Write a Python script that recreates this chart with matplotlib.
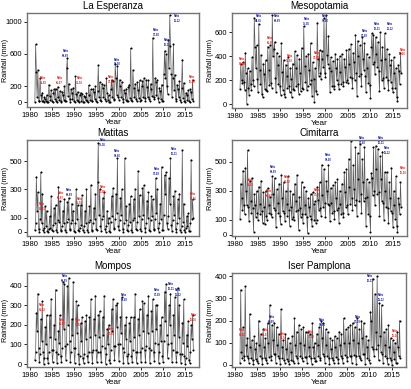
import matplotlib
matplotlib.use("Agg")
import matplotlib.pyplot as plt
import numpy as np

plt.rcParams["font.family"] = ["Liberation Sans", "DejaVu Sans"]

# bimonthly rainfall (mm), one row per year 1981-2016
years = np.arange(1981, 2017)

la_esperanza = [
    5, 720, 380, 60, 400, 20,
    10, 300, 90, 20, 120, 15,
    0, 60, 40, 10, 90, 5,
    5, 220, 80, 30, 150, 10,
    0, 110, 160, 40, 170, 20,
    5, 190, 70, 25, 140, 10,
    0, 130, 90, 30, 200, 15,
    10, 420, 550, 80, 230, 40,
    5, 160, 120, 40, 180, 10,
    0, 320, 100, 30, 130, 20,
    5, 90, 120, 20, 100, 5,
    0, 80, 60, 25, 110, 10,
    5, 210, 90, 30, 160, 15,
    10, 170, 130, 40, 200, 20,
    5, 140, 460, 60, 250, 30,
    20, 230, 180, 70, 210, 40,
    10, 300, 120, 30, 90, 5,
    0, 160, 280, 60, 260, 30,
    40, 470, 300, 90, 450, 60,
    30, 280, 200, 70, 250, 40,
    5, 150, 110, 30, 170, 10,
    10, 190, 220, 50, 670, 30,
    20, 400, 180, 60, 230, 40,
    10, 250, 150, 50, 270, 20,
    30, 200, 260, 70, 300, 50,
    20, 280, 190, 60, 270, 40,
    10, 230, 160, 80, 800, 60,
    40, 300, 250, 90, 280, 50,
    5, 180, 140, 40, 220, 10,
    20, 350, 640, 300, 600, 200,
    100, 770, 420, 1080, 700, 350,
    60, 300, 720, 150, 340, 40,
    10, 220, 170, 60, 260, 30,
    5, 180, 530, 50, 240, 20,
    0, 120, 90, 30, 150, 10,
    5, 160, 130, 40, 280, 20,
]

mesopotamia = [
    130, 340, 200, 180, 350, 190,
    120, 430, 260, 5, 300, 140,
    80, 280, 170, 120, 390, 200,
    150, 720, 480, 300, 490, 210,
    100, 670, 290, 170, 410, 90,
    60, 340, 250, 130, 370, 120,
    110, 480, 290, 160, 490, 180,
    140, 740, 400, 460, 520, 220,
    100, 430, 330, 170, 400, 150,
    80, 510, 270, 120, 370, 90,
    60, 330, 240, 140, 390, 150,
    100, 300, 210, 60, 340, 130,
    120, 440, 300, 150, 410, 170,
    90, 380, 260, 110, 470, 140,
    130, 650, 320, 190, 400, 120,
    150, 420, 290, 170, 510, 200,
    70, 350, 210, 20, 300, 110,
    90, 680, 380, 240, 450, 260,
    210, 440, 380, 310, 720, 260,
    230, 740, 410, 340, 570, 300,
    100, 390, 280, 150, 360, 130,
    150, 420, 300, 200, 380, 170,
    130, 400, 270, 170, 420, 190,
    150, 380, 310, 190, 450, 200,
    180, 460, 340, 230, 500, 220,
    140, 430, 350, 200, 580, 260,
    70, 530, 400, 240, 490, 250,
    150, 560, 380, 290, 510, 240,
    100, 420, 300, 180, 390, 160,
    50, 480, 590, 340, 580, 350,
    250, 560, 420, 310, 520, 280,
    110, 600, 370, 200, 480, 220,
    140, 590, 380, 230, 460, 200,
    120, 420, 330, 190, 370, 140,
    100, 390, 260, 140, 300, 60,
    30, 330, 280, 170, 430, 260,
]

matitas = [
    10, 60, 390, 150, 280, 20,
    0, 90, 420, 60, 270, 10,
    0, 30, 180, 40, 150, 5,
    0, 20, 110, 30, 250, 10,
    5, 50, 170, 60, 190, 15,
    0, 80, 320, 70, 220, 10,
    5, 40, 150, 60, 230, 10,
    0, 70, 210, 90, 240, 20,
    10, 60, 200, 80, 150, 5,
    0, 60, 300, 90, 190, 10,
    5, 30, 190, 50, 260, 10,
    0, 40, 150, 60, 300, 15,
    0, 70, 180, 80, 330, 10,
    5, 60, 170, 90, 270, 20,
    10, 350, 630, 120, 300, 40,
    5, 90, 240, 110, 280, 20,
    0, 40, 150, 60, 100, 5,
    0, 70, 250, 110, 310, 30,
    20, 90, 270, 130, 520, 40,
    10, 80, 240, 120, 300, 20,
    0, 60, 520, 80, 180, 10,
    5, 50, 200, 70, 250, 15,
    0, 80, 230, 100, 300, 20,
    10, 70, 430, 110, 260, 20,
    5, 90, 310, 120, 330, 30,
    0, 60, 220, 100, 280, 15,
    5, 80, 250, 110, 230, 20,
    10, 90, 380, 130, 300, 30,
    0, 60, 200, 90, 460, 10,
    10, 120, 400, 270, 420, 60,
    20, 110, 380, 200, 520, 50,
    5, 80, 250, 120, 290, 20,
    0, 60, 230, 100, 270, 15,
    0, 40, 580, 70, 200, 10,
    0, 30, 110, 40, 130, 5,
    5, 60, 510, 90, 230, 100,
]

cimitarra = [
    110, 350, 250, 170, 440, 200,
    140, 460, 300, 200, 580, 190,
    90, 370, 230, 150, 390, 180,
    20, 280, 200, 120, 300, 150,
    100, 330, 210, 140, 370, 160,
    80, 290, 190, 70, 300, 130,
    100, 320, 200, 150, 260, 140,
    120, 400, 280, 180, 390, 170,
    50, 310, 220, 150, 350, 130,
    70, 410, 250, 160, 360, 150,
    90, 300, 210, 130, 400, 170,
    60, 300, 190, 110, 280, 120,
    100, 350, 230, 160, 410, 170,
    30, 260, 180, 120, 360, 140,
    80, 330, 200, 140, 300, 120,
    10, 250, 190, 130, 280, 110,
    60, 290, 210, 100, 230, 80,
    100, 330, 240, 170, 360, 180,
    130, 480, 270, 190, 450, 220,
    120, 370, 300, 210, 480, 200,
    90, 320, 220, 150, 340, 160,
    110, 360, 250, 170, 380, 180,
    80, 300, 210, 140, 350, 150,
    120, 430, 290, 190, 450, 200,
    140, 520, 330, 210, 640, 250,
    170, 480, 310, 200, 600, 240,
    130, 560, 380, 230, 620, 280,
    150, 520, 360, 230, 600, 250,
    60, 380, 260, 140, 360, 130,
    20, 420, 390, 270, 600, 300,
    200, 610, 450, 280, 590, 290,
    130, 540, 380, 230, 570, 220,
    100, 430, 300, 190, 430, 180,
    80, 360, 250, 160, 460, 150,
    50, 300, 200, 110, 400, 60,
    20, 250, 210, 140, 360, 190,
]

mompos = [
    20, 60, 260, 170, 360, 80,
    10, 50, 230, 120, 320, 60,
    0, 30, 190, 100, 250, 30,
    5, 60, 250, 140, 330, 70,
    10, 70, 200, 130, 380, 60,
    5, 50, 170, 110, 250, 40,
    10, 80, 420, 180, 410, 90,
    20, 100, 400, 200, 440, 120,
    10, 60, 230, 150, 420, 80,
    5, 80, 320, 160, 300, 50,
    0, 40, 210, 120, 240, 30,
    5, 50, 220, 130, 250, 40,
    10, 60, 240, 140, 330, 60,
    5, 70, 230, 150, 350, 70,
    10, 60, 250, 140, 270, 60,
    10, 90, 240, 150, 350, 80,
    0, 50, 180, 100, 200, 20,
    5, 70, 280, 170, 330, 90,
    20, 90, 300, 190, 310, 100,
    15, 100, 240, 160, 340, 80,
    5, 60, 200, 130, 240, 40,
    5, 50, 210, 120, 240, 40,
    10, 70, 240, 140, 360, 60,
    5, 60, 230, 150, 280, 60,
    10, 80, 320, 170, 310, 70,
    10, 90, 250, 160, 350, 80,
    5, 70, 270, 170, 330, 60,
    15, 110, 300, 180, 300, 100,
    5, 60, 200, 120, 240, 40,
    10, 120, 370, 220, 410, 150,
    30, 100, 300, 200, 360, 110,
    10, 70, 250, 150, 340, 60,
    10, 60, 390, 140, 300, 50,
    5, 50, 210, 110, 330, 40,
    0, 30, 150, 90, 220, 20,
    5, 60, 200, 130, 250, 70,
]

iser_pamplona = [
    10, 340, 60, 30, 170, 40,
    20, 355, 90, 40, 120, 30,
    10, 230, 80, 30, 110, 20,
    5, 130, 70, 25, 100, 15,
    10, 200, 90, 40, 140, 30,
    5, 160, 80, 30, 120, 20,
    10, 190, 100, 35, 270, 40,
    20, 180, 110, 50, 190, 50,
    10, 170, 90, 40, 140, 30,
    5, 250, 80, 30, 110, 20,
    10, 140, 70, 25, 120, 15,
    5, 100, 60, 20, 130, 15,
    10, 210, 90, 40, 150, 30,
    10, 180, 100, 40, 160, 30,
    15, 170, 90, 35, 150, 35,
    10, 150, 80, 40, 140, 30,
    5, 190, 80, 30, 100, 15,
    15, 140, 90, 40, 170, 30,
    20, 200, 120, 50, 190, 40,
    10, 160, 90, 40, 150, 30,
    5, 120, 70, 30, 110, 20,
    10, 130, 80, 35, 120, 25,
    10, 150, 90, 40, 140, 30,
    10, 210, 100, 45, 160, 35,
    15, 170, 100, 40, 180, 40,
    10, 190, 110, 45, 170, 40,
    5, 210, 100, 40, 160, 30,
    20, 200, 120, 50, 190, 50,
    5, 130, 80, 30, 110, 20,
    10, 240, 200, 80, 390, 70,
    40, 320, 150, 70, 400, 90,
    20, 280, 130, 60, 270, 50,
    10, 150, 90, 40, 160, 30,
    5, 180, 80, 30, 120, 20,
    0, 110, 60, 25, 100, 10,
    10, 150, 80, 40, 200, 30,
]

stations = ["La Esperanza", "Mesopotamia", "Matitas", "Cimitarra", "Mompos", "Iser Pamplona"]
series = [la_esperanza, mesopotamia, matitas, cimitarra, mompos, iser_pamplona]
yticks = [[0, 200, 600, 1000], [0, 200, 400, 600], [0, 100, 300, 500],
          [0, 100, 300, 500], [0, 100, 200, 300, 400], [0, 100, 200, 300, 400]]
ylims = [(-60, 1110), (-30, 760), (-30, 650), (-10, 650), (-15, 465), (-10, 415)]

# ENSO event labels: (x, y, text, colour)
nino, nina = "#e8231c", "#1b1fa8"
events = [
    [(1983.0, 265, "Niño\n82-83", nino), (1986.7, 265, "Niño\n86-87", nino),
     (1991.2, 270, "Niño\n91-92", nino), (1998.4, 285, "Niño\n97-98", nino),
     (2016.6, 278, "Niño\n15-16", nino),
     (1988.0, 605, "Niña\n88-89", nina), (1999.7, 500, "Niña\n98-00", nina),
     (2008.5, 870, "Niña\n07-08", nina), (2010.9, 745, "Niña\n10-11", nina),
     (2013.3, 1040, "Niña\n11-12", nina)],
    [(1981.6, 354, "Niño\n82-83", nino), (1987.8, 533, "Niño\n86-87", nino),
     (1992.1, 383, "Niño\n91-92", nino), (1998.1, 408, "Niño\n97-98", nino),
     (2017.2, 436, "Niño\n15-16", nino),
     (1985.2, 714, "Niña\n84-85", nina), (1989.3, 714, "Niña\n88-89", nina),
     (1995.9, 688, "Niña\n95-96", nina), (2000.0, 714, "Niña\n98-00", nina),
     (2008.8, 586, "Niña\n07-08", nina), (2011.5, 646, "Niña\n10-11", nina),
     (2014.4, 646, "Niña\n11-12", nina)],
    [(1982.7, 180, "Niño\n82-83", nino), (1986.9, 258, "Niño\n86-87", nino),
     (1991.2, 218, "Niño\n91-92", nino), (1996.4, 300, "Niño\n97-98", nino),
     (2016.9, 250, "Niño\n15-16", nino),
     (1988.8, 280, "Niña\n88-89", nina), (1996.4, 630, "Niña\n95-96", nina),
     (1999.7, 555, "Niña\n98-00", nina), (2008.6, 425, "Niña\n07-08", nina),
     (2012.6, 570, "Niña\n10-11", nina)],
    [(1983.4, 355, "Niño\n82-83", nino), (1987.5, 283, "Niño\n86-87", nino),
     (1991.6, 381, "Niño\n91-92", nino), (1998.3, 290, "Niño\n97-98", nino),
     (2017.3, 438, "Niño\n15-16", nino),
     (1988.4, 450, "Niña\n88-89", nina), (2000.6, 528, "Niña\n98-00", nina),
     (2008.2, 648, "Niña\n07-08", nina), (2012.5, 648, "Niña\n10-11", nina),
     (2013.8, 576, "Niña\n11-12", nina)],
    [(1982.7, 288, "Niño\n82-83", nino), (1987.3, 215, "Niño\n86-87", nino),
     (1990.9, 212, "Niño\n91-92", nino), (1998.3, 164, "Niño\n97-98", nino),
     (2017.0, 238, "Niño\n15-16", nino),
     (1987.8, 436, "Niña\n88-89", nina), (2001.2, 341, "Niña\n98-00", nina),
     (2008.7, 367, "Niña\n07-08", nina), (2011.9, 397, "Niña\n10-11", nina),
     (2013.5, 366, "Niña\n11-12", nina)],
    [(1981.6, 146, "Niño\n82-83", nino), (1986.8, 148, "Niño\n86-87", nino),
     (1990.8, 130, "Niño\n91-92", nino), (1997.0, 135, "Niño\n97-98", nino),
     (2015.8, 143, "Niño\n15-16", nino),
     (1988.2, 203, "Niña\n88-89", nina), (1999.5, 190, "Niña\n98-00", nina),
     (2007.4, 206, "Niña\n07-08", nina), (2010.1, 389, "Niña\n10-11", nina),
     (2012.6, 306, "Niña\n11-12", nina)],
]

# axes boxes in pixels: left, top, right, bottom
W, H = 411, 389
boxes = [(27, 13, 199, 107), (232, 13, 407, 108),
         (27, 140, 199, 236), (232, 140, 407, 236),
         (27, 273, 199, 367), (232, 273, 406, 367)]
ylabel_x = [9, 214, 9, 214, 9, 214]

fig = plt.figure(figsize=(W / 100, H / 100), dpi=100)

t = (np.repeat(years, 6) + (np.tile(np.arange(6), len(years)) + 0.5) / 6)

for i, (name, vals, yt, yl, ev) in enumerate(zip(stations, series, yticks, ylims, events)):
    l, tp, r, b = boxes[i]
    ax = fig.add_axes([l / W, 1 - b / H, (r - l) / W, (b - tp) / H])
    ax.plot(t, vals, color="0.35", lw=0.5, marker="o", ms=1.5,
            mfc="black", mec="black", mew=0)
    for x, y, txt, c in ev:
        ax.text(x, y, txt, color=c, fontsize=2.0, ha="center", va="center",
                linespacing=1.3, fontweight="bold")
    ax.set_xlim(1979.3, 2018.2)
    ax.set_ylim(*yl)
    ax.set_xticks(range(1980, 2016, 5))
    ax.set_yticks(yt)
    ax.tick_params(labelsize=5.5, length=2, width=0.6, pad=1.5, colors="black")
    ax.set_title(name, fontsize=7, pad=3)
    ax.set_xlabel("Year", fontsize=6, labelpad=0)
    ax.set_ylabel("Rainfall (mm)", fontsize=5.2)
    ax.yaxis.set_label_coords((ylabel_x[i] - l) / (r - l), 0.5)
    for s in ax.spines.values():
        s.set_color("0.45")
        s.set_linewidth(1.0)

fig.savefig("out.png", dpi=100)
